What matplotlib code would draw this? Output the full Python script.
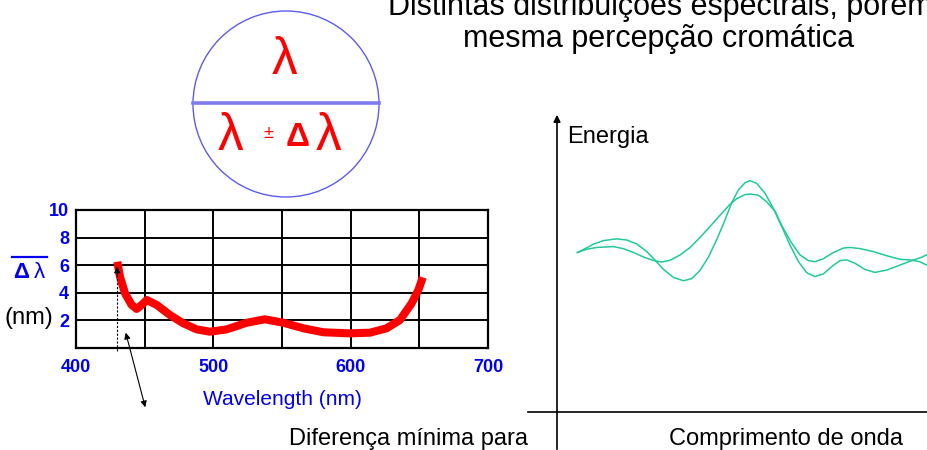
import numpy as np
import matplotlib
matplotlib.use("Agg")
import matplotlib.pyplot as plt
from matplotlib.patches import Circle

plt.rcParams['font.family'] = ['Liberation Sans', 'DejaVu Sans']

# left chart: minimum wavelength difference (nm) vs wavelength (nm)
wl = [430.1, 432.0, 435.7, 440.5, 444.2, 447.8, 451.5, 458.8, 468.4, 478.1,
      487.9, 497.6, 509.7, 524.3, 537.6, 551.0, 565.5, 580.1, 599.5, 614.1,
      626.2, 635.9, 644.4, 649.3, 652.5]
dlam = [6.25, 5.17, 3.96, 3.12, 2.83, 3.12, 3.48, 3.12, 2.39, 1.79,
        1.35, 1.18, 1.35, 1.83, 2.08, 1.83, 1.43, 1.14, 1.06, 1.11,
        1.43, 2.03, 3.24, 4.20, 5.12]
x_ticks = [400, 450, 500, 550, 600, 650, 700]
x_labels = ['400', '', '500', '', '600', '', '700']
y_ticks = [0, 2, 4, 6, 8, 10]
y_labels = ['', '2', '4', '6', '8', '10']

# right chart: two spectra (arbitrary units)
xa = [5.5, 7.6, 9.8, 12.5, 16.1, 18.8, 21.5, 24.2, 26.4, 28.7, 31.4, 34.1, 36.3,
      38.5, 40.8, 43.0, 45.3, 47.1, 48.9, 50.7, 52.0, 53.8, 56.1, 58.3, 60.6,
      62.8, 65.1, 67.3, 69.5, 71.8, 74.0, 76.3, 78.1, 80.3, 83.0, 85.7, 88.9,
      92.5, 96.1, 98.3, 99.9]
ea = [53.7, 55.0, 56.5, 57.7, 58.3, 57.9, 56.6, 54.0, 51.2, 48.0, 45.3, 44.2, 44.9,
      47.6, 52.1, 57.9, 64.7, 70.5, 74.8, 77.2, 77.9, 77.0, 73.6, 68.6, 62.4,
      56.2, 50.6, 46.9, 45.6, 46.5, 48.9, 51.0, 51.2, 50.1, 48.0, 47.0, 47.8,
      49.5, 51.2, 52.1, 53.1]
xb = [5.5, 8.0, 10.7, 15.2, 17.9, 20.6, 23.3, 26.0, 28.2, 30.5, 33.2, 35.9,
      38.5, 41.2, 43.9, 46.6, 48.4, 50.7, 52.0, 54.3, 56.5, 58.8, 61.0, 63.3,
      65.5, 67.7, 69.5, 71.8, 74.5, 77.2, 79.0, 81.7, 85.3, 88.9, 92.5, 95.2,
      97.8, 99.9]
eb = [53.7, 54.8, 55.4, 55.7, 55.0, 53.7, 52.2, 51.0, 50.5, 51.1, 52.9, 55.4,
      58.7, 62.4, 66.2, 69.9, 71.8, 73.2, 73.4, 73.0, 70.8, 67.5, 61.8, 56.8,
      52.9, 51.0, 50.6, 51.6, 53.7, 55.2, 55.4, 55.0, 54.0, 52.6, 51.4, 51.2,
      50.6, 49.3]

blue = '#0000ee'
green = '#22c99a'

fig = plt.figure(figsize=(9.28, 4.5), dpi=100)

# left grid chart
ax = fig.add_axes([76/928, 1 - 348/450, 412/928, 138/450])
ax.plot(wl, dlam, color='#ff0000', lw=5.8, solid_capstyle='butt',
        solid_joinstyle='round', zorder=3)
ax.set_xlim(400, 700)
ax.set_ylim(0, 10)
ax.set_xticks(x_ticks)
ax.set_xticklabels(x_labels)
ax.set_yticks(y_ticks)
ax.set_yticklabels(y_labels)
ax.grid(True, color='black', lw=1.4)
ax.tick_params(length=0, labelcolor=blue, labelsize=13)
ax.tick_params(axis='x', pad=8)
ax.tick_params(axis='y', pad=5)
for lab in ax.get_xticklabels() + ax.get_yticklabels():
    lab.set_fontweight('bold')
for sp in ax.spines.values():
    sp.set_linewidth(1.6)
ax.set_xlabel('Wavelength (nm)', color=blue, fontsize=15, labelpad=10)
ax.plot([430, 430], [5.9, -0.3], color='black', lw=0.8, ls=(0, (2, 1.5)),
        clip_on=False, zorder=4)
ax.annotate('', xy=(430, 6.1), xytext=(430, 5.0),
            arrowprops=dict(arrowstyle='-|>', color='black', lw=0.8, mutation_scale=9),
            zorder=4)

# right spectra chart
ax2 = fig.add_axes([557/928, 1 - 412/450, 371/928, 297/450])
ax2.plot(xa, ea, color=green, lw=1.1)
ax2.plot(xb, eb, color=green, lw=1.1)
ax2.set_xlim(0, 100)
ax2.set_ylim(0, 100)
ax2.axis('off')

# overlay in pixel coordinates for drawings and free text
ov = fig.add_axes([0, 0, 1, 1])
ov.set_xlim(0, 928)
ov.set_ylim(450, 0)
ov.axis('off')
ov.patch.set_alpha(0)

ov.add_patch(Circle((286, 104), 93, fill=False, edgecolor='#5c5cf0', lw=1.0))
ov.plot([193, 379], [103, 103], color='#7c7cf0', lw=2.6)
ov.text(285, 60, 'λ', color='red', fontsize=37, ha='center', va='center')
ov.text(231, 137, 'λ', color='red', fontsize=37, ha='center', va='center')
ov.text(268, 134, '±', color='red', fontsize=13, ha='center', va='center')
ov.text(298, 138, 'Δ', color='red', fontsize=24, fontweight='bold', ha='center', va='center')
ov.text(329, 137, 'λ', color='red', fontsize=37, ha='center', va='center')

ov.text(21, 273, 'Δ', color=blue, fontsize=16, fontweight='bold', ha='center', va='center')
ov.text(39, 273, 'λ', color=blue, fontsize=16, ha='center', va='center')
ov.plot([12, 47], [257, 257], color=blue, lw=1.6)
ov.text(4, 318, '(nm)', color='black', fontsize=17, ha='left', va='center')

ov.annotate('', xy=(125, 330), xytext=(146, 410),
            arrowprops=dict(arrowstyle='<|-|>', color='black', lw=0.8, mutation_scale=9))

ov.text(660, 15, 'Distintas distribuições espectrais, porém', fontsize=22,
        ha='center', va='baseline')
ov.text(659, 47, 'mesma percepção cromática', fontsize=22, ha='center', va='baseline')

ov.plot([528, 928], [412, 412], color='black', lw=1.2)
ov.annotate('', xy=(557, 112), xytext=(557, 452),
            arrowprops=dict(arrowstyle='-|>', color='black', lw=1.2, mutation_scale=10))
ov.text(567, 137, 'Energia', fontsize=17, ha='left', va='center')
ov.text(786, 445, 'Comprimento de onda', fontsize=17, ha='center', va='baseline')
ov.text(289, 445, 'Diferença mínima para', fontsize=17, ha='left', va='baseline')

fig.savefig('out.png', dpi=100)
